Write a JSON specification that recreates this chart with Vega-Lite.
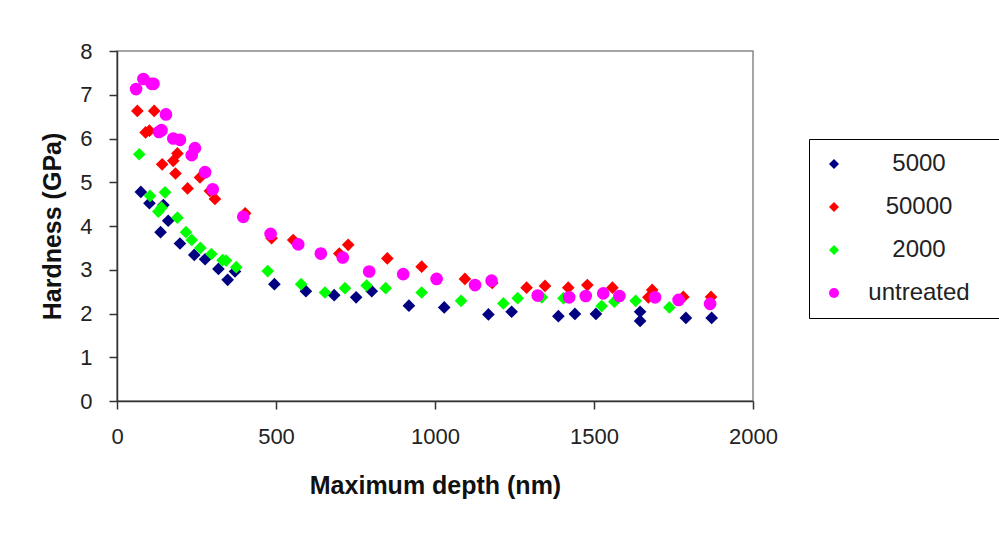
{
  "$schema": "https://vega.github.io/schema/vega-lite/v6.json",
  "autosize": "none",
  "padding": {"left": 117, "top": 51, "right": 246, "bottom": 132},
  "width": 636,
  "height": 350,
  "background": "#ffffff",
  "data": {
    "values": [
      {"series": "5000", "depth": 75, "hardness": 4.78},
      {"series": "5000", "depth": 102, "hardness": 4.52},
      {"series": "5000", "depth": 146, "hardness": 4.48},
      {"series": "5000", "depth": 161, "hardness": 4.12},
      {"series": "5000", "depth": 137, "hardness": 3.86},
      {"series": "5000", "depth": 198, "hardness": 3.6},
      {"series": "5000", "depth": 243, "hardness": 3.34},
      {"series": "5000", "depth": 277, "hardness": 3.24},
      {"series": "5000", "depth": 319, "hardness": 3.02},
      {"series": "5000", "depth": 348, "hardness": 2.77},
      {"series": "5000", "depth": 371, "hardness": 2.96},
      {"series": "5000", "depth": 495, "hardness": 2.67},
      {"series": "5000", "depth": 594, "hardness": 2.51},
      {"series": "5000", "depth": 683, "hardness": 2.42},
      {"series": "5000", "depth": 752, "hardness": 2.37},
      {"series": "5000", "depth": 801, "hardness": 2.51},
      {"series": "5000", "depth": 918, "hardness": 2.18},
      {"series": "5000", "depth": 1029, "hardness": 2.14},
      {"series": "5000", "depth": 1168, "hardness": 1.98},
      {"series": "5000", "depth": 1241, "hardness": 2.04},
      {"series": "5000", "depth": 1388, "hardness": 1.94},
      {"series": "5000", "depth": 1440, "hardness": 1.99},
      {"series": "5000", "depth": 1506, "hardness": 1.99},
      {"series": "5000", "depth": 1645, "hardness": 2.04},
      {"series": "5000", "depth": 1645, "hardness": 1.83},
      {"series": "5000", "depth": 1789, "hardness": 1.9},
      {"series": "5000", "depth": 1870, "hardness": 1.9},
      {"series": "50000", "depth": 64, "hardness": 6.63},
      {"series": "50000", "depth": 117, "hardness": 6.63},
      {"series": "50000", "depth": 90, "hardness": 6.14},
      {"series": "50000", "depth": 102, "hardness": 6.18},
      {"series": "50000", "depth": 190, "hardness": 5.66},
      {"series": "50000", "depth": 177, "hardness": 5.49},
      {"series": "50000", "depth": 142, "hardness": 5.41},
      {"series": "50000", "depth": 184, "hardness": 5.2},
      {"series": "50000", "depth": 261, "hardness": 5.11},
      {"series": "50000", "depth": 222, "hardness": 4.86},
      {"series": "50000", "depth": 292, "hardness": 4.8},
      {"series": "50000", "depth": 308, "hardness": 4.62},
      {"series": "50000", "depth": 403, "hardness": 4.29},
      {"series": "50000", "depth": 486, "hardness": 3.72},
      {"series": "50000", "depth": 554, "hardness": 3.68},
      {"series": "50000", "depth": 699, "hardness": 3.37},
      {"series": "50000", "depth": 727, "hardness": 3.57},
      {"series": "50000", "depth": 850, "hardness": 3.26},
      {"series": "50000", "depth": 958, "hardness": 3.07},
      {"series": "50000", "depth": 1094, "hardness": 2.79},
      {"series": "50000", "depth": 1180, "hardness": 2.7},
      {"series": "50000", "depth": 1288, "hardness": 2.59},
      {"series": "50000", "depth": 1346, "hardness": 2.63},
      {"series": "50000", "depth": 1419, "hardness": 2.59},
      {"series": "50000", "depth": 1479, "hardness": 2.65},
      {"series": "50000", "depth": 1558, "hardness": 2.59},
      {"series": "50000", "depth": 1683, "hardness": 2.54},
      {"series": "50000", "depth": 1671, "hardness": 2.37},
      {"series": "50000", "depth": 1781, "hardness": 2.38},
      {"series": "50000", "depth": 1868, "hardness": 2.38},
      {"series": "2000", "depth": 70, "hardness": 5.64},
      {"series": "2000", "depth": 104, "hardness": 4.69},
      {"series": "2000", "depth": 151, "hardness": 4.77},
      {"series": "2000", "depth": 140, "hardness": 4.42},
      {"series": "2000", "depth": 130, "hardness": 4.33},
      {"series": "2000", "depth": 190, "hardness": 4.19},
      {"series": "2000", "depth": 217, "hardness": 3.86},
      {"series": "2000", "depth": 235, "hardness": 3.68},
      {"series": "2000", "depth": 262, "hardness": 3.5},
      {"series": "2000", "depth": 297, "hardness": 3.36},
      {"series": "2000", "depth": 332, "hardness": 3.22},
      {"series": "2000", "depth": 343, "hardness": 3.21},
      {"series": "2000", "depth": 375, "hardness": 3.06},
      {"series": "2000", "depth": 474, "hardness": 2.97},
      {"series": "2000", "depth": 579, "hardness": 2.67},
      {"series": "2000", "depth": 654, "hardness": 2.48},
      {"series": "2000", "depth": 717, "hardness": 2.58},
      {"series": "2000", "depth": 785, "hardness": 2.64},
      {"series": "2000", "depth": 845, "hardness": 2.58},
      {"series": "2000", "depth": 958, "hardness": 2.48},
      {"series": "2000", "depth": 1082, "hardness": 2.29},
      {"series": "2000", "depth": 1215, "hardness": 2.23},
      {"series": "2000", "depth": 1260, "hardness": 2.35},
      {"series": "2000", "depth": 1336, "hardness": 2.37},
      {"series": "2000", "depth": 1404, "hardness": 2.35},
      {"series": "2000", "depth": 1524, "hardness": 2.17},
      {"series": "2000", "depth": 1564, "hardness": 2.27},
      {"series": "2000", "depth": 1631, "hardness": 2.29},
      {"series": "2000", "depth": 1737, "hardness": 2.14},
      {"series": "untreated", "depth": 60, "hardness": 7.13},
      {"series": "untreated", "depth": 83, "hardness": 7.36},
      {"series": "untreated", "depth": 109, "hardness": 7.25},
      {"series": "untreated", "depth": 115, "hardness": 7.25},
      {"series": "untreated", "depth": 154, "hardness": 6.55},
      {"series": "untreated", "depth": 140, "hardness": 6.19},
      {"series": "untreated", "depth": 132, "hardness": 6.15},
      {"series": "untreated", "depth": 177, "hardness": 6.0},
      {"series": "untreated", "depth": 198, "hardness": 5.97},
      {"series": "untreated", "depth": 245, "hardness": 5.78},
      {"series": "untreated", "depth": 235, "hardness": 5.62},
      {"series": "untreated", "depth": 277, "hardness": 5.23},
      {"series": "untreated", "depth": 301, "hardness": 4.84},
      {"series": "untreated", "depth": 397, "hardness": 4.21},
      {"series": "untreated", "depth": 483, "hardness": 3.82},
      {"series": "untreated", "depth": 570, "hardness": 3.58},
      {"series": "untreated", "depth": 641, "hardness": 3.37},
      {"series": "untreated", "depth": 710, "hardness": 3.28},
      {"series": "untreated", "depth": 793, "hardness": 2.96},
      {"series": "untreated", "depth": 900, "hardness": 2.9},
      {"series": "untreated", "depth": 1005, "hardness": 2.79},
      {"series": "untreated", "depth": 1126, "hardness": 2.65},
      {"series": "untreated", "depth": 1178, "hardness": 2.75},
      {"series": "untreated", "depth": 1323, "hardness": 2.41},
      {"series": "untreated", "depth": 1422, "hardness": 2.37},
      {"series": "untreated", "depth": 1474, "hardness": 2.4},
      {"series": "untreated", "depth": 1529, "hardness": 2.46},
      {"series": "untreated", "depth": 1580, "hardness": 2.4},
      {"series": "untreated", "depth": 1692, "hardness": 2.37},
      {"series": "untreated", "depth": 1766, "hardness": 2.31},
      {"series": "untreated", "depth": 1865, "hardness": 2.22}
    ]
  },
  "mark": {"type": "point", "filled": true, "opacity": 1, "size": 160, "strokeWidth": 0},
  "encoding": {
    "x": {
      "field": "depth", "type": "quantitative",
      "scale": {"domain": [0, 2000], "nice": false},
      "axis": {"title": "Maximum depth (nm)", "format": "d", "values": [0, 500, 1000, 1500, 2000], "labelPadding": 17, "titleFontSize": 25, "titlePadding": 26, "labelFlush": false}
    },
    "y": {
      "field": "hardness", "type": "quantitative",
      "scale": {"domain": [0, 8], "nice": false},
      "axis": {"title": "Hardness (GPa)", "values": [0, 1, 2, 3, 4, 5, 6, 7, 8], "labelPadding": 17, "titleFontSize": 25, "titlePadding": 14, "labelFlush": false}
    },
    "color": {
      "field": "series", "type": "nominal",
      "scale": {"domain": ["5000", "50000", "2000", "untreated"], "range": ["#000080", "#ff0000", "#00ff00", "#ff00ff"]},
      "legend": {
        "title": " ",
        "titleOrient": "right",
        "titlePadding": 36,
        "orient": "none",
        "legendX": 692,
        "legendY": 88,
        "strokeColor": "#000000",
        "fillColor": "#ffffff",
        "padding": 13,
        "symbolSize": 100,
        "labelFontSize": 24,
        "labelFont": "Liberation Sans",
        "labelColor": "#222222",
        "labelAlign": "center",
        "labelOffset": 73,
        "rowPadding": 19
      }
    },
    "shape": {
      "field": "series", "type": "nominal",
      "scale": {"domain": ["5000", "50000", "2000", "untreated"], "range": ["diamond", "diamond", "diamond", "circle"]}
    }
  },
  "config": {
    "view": {"stroke": "#888888", "strokeWidth": 1.5},
    "axis": {
      "domainColor": "#333333", "domainWidth": 1.5,
      "tickColor": "#333333", "tickSize": 8, "tickWidth": 1.5,
      "labelFont": "Liberation Sans", "labelFontSize": 22, "labelColor": "#222222",
      "titleFont": "Liberation Sans", "titleFontWeight": "bold", "titleColor": "#111111",
      "grid": false
    }
  }
}
